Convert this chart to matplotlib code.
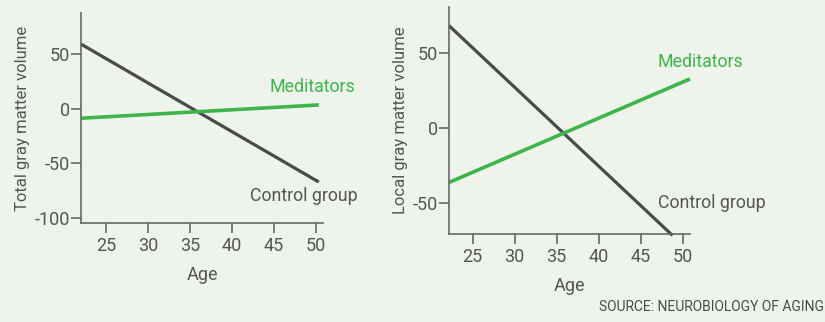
import matplotlib
matplotlib.use("Agg")
import matplotlib.pyplot as plt

# Regression lines: age endpoints and fitted gray matter volume
total_age = [22.06, 50.3]
total_control = [59.5, -67.0]
total_meditators = [-8.5, 3.7]

local_control_age = [22.18, 48.8]
local_control = [68.5, -72.0]
local_meditators_age = [22.18, 50.87]
local_meditators = [-36.5, 32.8]

age_ticks = [25, 30, 35, 40, 45, 50]
total_yticks = [50, 0, -50, -100]
local_yticks = [50, 0, -50]

BG = "#eef3ec"
GREEN = "#3db54a"
DARK = "#4a4a4a"
TEXT = "#555555"

plt.rcParams["font.family"] = ["Roboto", "DejaVu Sans"]

fig = plt.figure(figsize=(8.25, 3.22), dpi=100, facecolor=BG)
ax1 = fig.add_axes([0.0982, 0.3075, 0.2933, 0.652])
ax2 = fig.add_axes([0.5442, 0.2724, 0.2921, 0.706])


def style(ax, xlim, ylim, yticks, ylabel):
    ax.set_facecolor(BG)
    ax.set_xlim(*xlim)
    ax.set_ylim(*ylim)
    ax.set_xticks(age_ticks)
    ax.set_yticks(yticks)
    ax.set_yticklabels([str(v) for v in yticks])
    for s in ("top", "right"):
        ax.spines[s].set_visible(False)
    for s in ("left", "bottom"):
        ax.spines[s].set_color("#666666")
        ax.spines[s].set_linewidth(1.2)
    ax.tick_params(axis="both", colors="#666666", labelcolor=TEXT,
                   labelsize=13, length=7, width=1.2, direction="out")
    ax.tick_params(axis="x", pad=3)
    ax.tick_params(axis="y", pad=1)
    ax.set_xlabel("Age", fontsize=13, color=TEXT, labelpad=8)
    ax.set_ylabel(ylabel, fontsize=12, color=TEXT, labelpad=3)


style(ax1, (22.06, 50.8), (-104.6, 88), total_yticks, "Total gray matter volume")
style(ax2, (22.18, 50.87), (-71.2, 81), local_yticks, "Local gray matter volume")

ax1.plot(total_age, total_control, color=DARK, lw=2.3, solid_capstyle="butt", clip_on=False)
ax1.plot(total_age, total_meditators, color=GREEN, lw=2.6, solid_capstyle="butt", clip_on=False)
ax1.text(44.5, 20.2, "Meditators", color=GREEN, fontsize=12.8, va="center", ha="left")
ax1.text(42.15, -80.3, "Control group", color=TEXT, fontsize=12.8, va="center", ha="left")

ax2.plot(local_control_age, local_control, color=DARK, lw=2.3, solid_capstyle="butt", clip_on=False)
ax2.plot(local_meditators_age, local_meditators, color=GREEN, lw=2.6, solid_capstyle="butt", clip_on=False)
ax2.text(47.06, 44, "Meditators", color=GREEN, fontsize=12.8, va="center", ha="left")
ax2.text(47.06, -50.2, "Control group", color=TEXT, fontsize=12.8, va="center", ha="left")

fig.text(0.999, 0.025, "SOURCE: NEUROBIOLOGY OF AGING", ha="right", va="bottom",
         fontsize=10, color="#4a4a4a")

fig.savefig("out.png", dpi=100, facecolor=BG)
